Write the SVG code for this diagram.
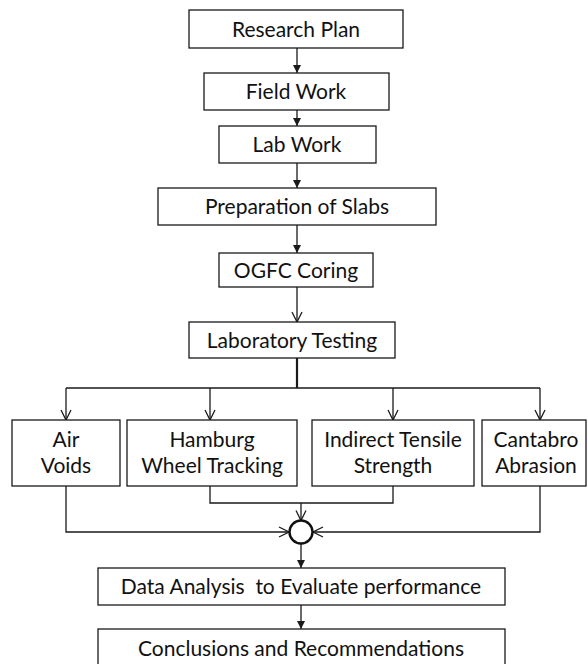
<svg xmlns="http://www.w3.org/2000/svg" width="588" height="664" viewBox="0 0 588 664">
  <style>
    .box { fill: #ffffff; stroke: #1a1a1a; stroke-width: 1.3; }
    .lbl { font-family: Lato, "Open Sans", "Liberation Sans", sans-serif; font-size: 21px; fill: #111111; text-anchor: middle; }
    .wire { fill: none; stroke: #1a1a1a; stroke-width: 1.3; }
    .solid { marker-end: url(#tri); }
    .open { marker-end: url(#vee); }
  </style>
  <defs>
    <marker id="tri" markerWidth="10" markerHeight="10" refX="9" refY="5" orient="auto" markerUnits="userSpaceOnUse">
      <path d="M1,1 L9,5 L1,9 Z" fill="#1a1a1a"/>
    </marker>
    <marker id="vee" markerWidth="12" markerHeight="12" refX="11" refY="6" orient="auto" markerUnits="userSpaceOnUse">
      <path d="M1,1 L11,6 L1,11" fill="none" stroke="#1a1a1a" stroke-width="1.3"/>
    </marker>
  </defs>

  <rect x="0" y="0" width="588" height="664" fill="#ffffff"/>

  <g id="connectors">
    <line class="wire solid" x1="297" y1="48" x2="297" y2="73"/>
    <line class="wire solid" x1="297" y1="110" x2="297" y2="126"/>
    <line class="wire solid" x1="297" y1="163" x2="297" y2="188"/>
    <line class="wire solid" x1="297" y1="225" x2="297" y2="253"/>
    <line class="wire open" x1="297" y1="287" x2="297" y2="322"/>
    <!-- trunk and distribution bus -->
    <line x1="297" y1="358" x2="297" y2="388" stroke="#1a1a1a" stroke-width="2.2"/>
    <line class="wire" x1="66" y1="388" x2="540" y2="388"/>
    <line class="wire open" x1="66" y1="388" x2="66" y2="420"/>
    <line class="wire open" x1="210" y1="388" x2="210" y2="420"/>
    <line class="wire open" x1="393" y1="388" x2="393" y2="420"/>
    <line class="wire open" x1="540" y1="388" x2="540" y2="420"/>
    <!-- collection into the junction -->
    <polyline class="wire open" points="66,486 66,532 289,532"/>
    <polyline class="wire open" points="540,486 540,532 313,532"/>
    <polyline class="wire" points="210,486 210,503 393,503 393,486"/>
    <line class="wire open" x1="301" y1="503" x2="301" y2="520.5"/>
    <line class="wire solid" x1="301" y1="544" x2="301" y2="568"/>
    <line class="wire solid" x1="301" y1="605" x2="301" y2="629"/>
  </g>

  <g id="research-plan">
    <rect class="box" x="189" y="10" width="214" height="38"/>
    <text class="lbl" x="296" y="37">Research Plan</text>
  </g>
  <g id="field-work">
    <rect class="box" x="204" y="73" width="185" height="37"/>
    <text class="lbl" x="296" y="99">Field Work</text>
  </g>
  <g id="lab-work">
    <rect class="box" x="219" y="126" width="157" height="37"/>
    <text class="lbl" x="297" y="152">Lab Work</text>
  </g>
  <g id="preparation-of-slabs">
    <rect class="box" x="158" y="188" width="278" height="37"/>
    <text class="lbl" x="297" y="214">Preparation of Slabs</text>
  </g>
  <g id="ogfc-coring">
    <rect class="box" x="219" y="253" width="154" height="34"/>
    <text class="lbl" x="296" y="278">OGFC Coring</text>
  </g>
  <g id="laboratory-testing">
    <rect class="box" x="189" y="322" width="206" height="36"/>
    <text class="lbl" x="292" y="348">Laboratory Testing</text>
  </g>

  <g id="air-voids">
    <rect class="box" x="12" y="420" width="108" height="66"/>
    <text class="lbl" x="66" y="447">Air</text>
    <text class="lbl" x="66" y="473">Voids</text>
  </g>
  <g id="hamburg-wheel-tracking">
    <rect class="box" x="127" y="420" width="170" height="66"/>
    <text class="lbl" x="212" y="447">Hamburg</text>
    <text class="lbl" x="212" y="473">Wheel Tracking</text>
  </g>
  <g id="indirect-tensile-strength">
    <rect class="box" x="312" y="420" width="162" height="66"/>
    <text class="lbl" x="393" y="447">Indirect Tensile</text>
    <text class="lbl" x="393" y="473">Strength</text>
  </g>
  <g id="cantabro-abrasion">
    <rect class="box" x="482" y="420" width="104" height="66"/>
    <text class="lbl" x="536" y="447">Cantabro</text>
    <text class="lbl" x="536" y="473">Abrasion</text>
  </g>

  <g id="junction">
    <circle cx="301" cy="532" r="11.5" fill="#ffffff" stroke="#111111" stroke-width="2.4"/>
  </g>

  <g id="data-analysis">
    <rect class="box" x="98" y="568" width="407" height="37"/>
    <text class="lbl" x="301" y="594" style="white-space: pre">Data Analysis  to Evaluate performance</text>
  </g>
  <g id="conclusions">
    <rect class="box" x="98" y="629" width="407" height="40"/>
    <text class="lbl" x="301" y="656">Conclusions and Recommendations</text>
  </g>
</svg>
